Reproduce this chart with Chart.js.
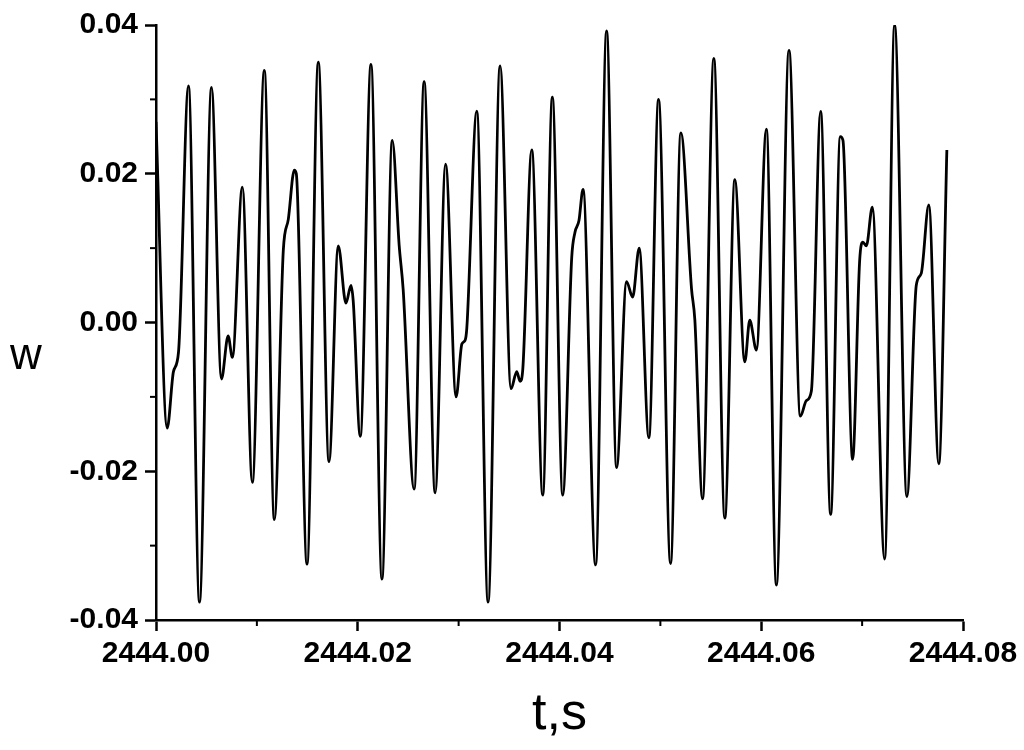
<!DOCTYPE html>
<html>
<head>
<meta charset="utf-8">
<title>w(t)</title>
<script src="https://cdn.jsdelivr.net/npm/chart.js@4.4.1/dist/chart.umd.min.js"></script>
<style>
    html, body { margin: 0; padding: 0; background: #fff; }
    #wrap { width: 1024px; height: 750px; }
</style>
</head>
<body>
<div id="wrap"><canvas id="wChart" width="1024" height="750"></canvas></div>
<script>
// Time origin (s) and sample times as offsets in milliseconds
const T0 = 2444;
const timeOffsetsMs = [
    0.00, 1.11, 1.73, 2.23, 3.22, 4.31, 5.50, 6.49, 7.15, 7.57,
    8.56, 9.55, 10.74, 11.73, 12.62, 13.12, 13.71, 13.91, 14.97, 16.09,
    17.15, 18.07, 18.83, 19.33, 19.55, 20.25, 21.31, 22.40, 23.42, 24.11,
    24.50, 25.59, 26.58, 27.67, 28.71, 29.75, 30.32, 30.64, 30.81, 31.80,
    32.92, 34.11, 35.20, 35.76, 36.09, 36.36, 37.25, 38.34, 39.29, 40.32,
    41.21, 41.53, 41.93, 42.33, 43.58, 44.67, 45.66, 46.65, 47.25, 47.90,
    48.86, 49.82, 51.01, 52.03, 53.09, 53.42, 54.18, 55.30, 56.39, 57.38,
    58.37, 58.86, 59.52, 60.51, 61.50, 62.75, 63.88, 64.47, 64.97, 65.89,
    66.88, 67.84, 68.10, 69.06, 69.75, 70.08, 70.42, 71.01, 72.23, 73.22,
    74.44, 75.37, 75.86, 76.61, 77.60, 78.40
];
const wValues = [
    0.0270, -0.0142, -0.0066, -0.0040, 0.0318, -0.0376, 0.0316, -0.0076, -0.0018, -0.0047,
    0.0182, -0.0215, 0.0339, -0.0265, 0.0097, 0.0139, 0.0205, 0.0200, -0.0325, 0.0350,
    -0.0187, 0.0103, 0.0026, 0.0050, 0.0029, -0.0153, 0.0347, -0.0345, 0.0245, 0.0103,
    0.0045, -0.0224, 0.0324, -0.0229, 0.0213, -0.0100, -0.0029, -0.0024, -0.0008, 0.0284,
    -0.0376, 0.0345, -0.0089, -0.0066, -0.0079, -0.0063, 0.0232, -0.0232, 0.0303, -0.0232,
    0.0087, 0.0121, 0.0137, 0.0179, -0.0326, 0.0392, -0.0195, 0.0055, 0.0034, 0.0100,
    -0.0155, 0.0300, -0.0324, 0.0255, 0.0045, 0.0003, -0.0237, 0.0355, -0.0263, 0.0192,
    -0.0053, 0.0003, -0.0037, 0.0260, -0.0353, 0.0366, -0.0126, -0.0105, -0.0092, 0.0284,
    -0.0258, 0.0250, 0.0245, -0.0184, 0.0082, 0.0108, 0.0103, 0.0155, -0.0318, 0.0400,
    -0.0234, 0.0050, 0.0066, 0.0158, -0.0190, 0.0232
];

// Axis ranges / tick steps
const xRange = [2444.00, 2444.08];
const xStep = 0.02;
const yRange = [-0.04, 0.04];
const yStep = 0.02;
const xTitle = 't,s';
const yTitle = 'w';

const FONT = '"Liberation Sans", Arial, Helvetica, sans-serif';

const points = timeOffsetsMs.map((ms, i) => ({ x: T0 + ms / 1000, y: wValues[i] }));

/**
 * Short unlabelled ticks half way between the labelled ones
 */
const minorTicks = {
    id: 'minorTicks',
    afterDraw(chart) {
        const ctx = chart.ctx;
        ctx.save();
        ctx.strokeStyle = '#000';
        ctx.lineWidth = 2;
        ['x', 'y'].forEach(id => {
            const scale = chart.scales[id];
            const vals = scale.ticks.map(t => t.value);
            for (let i = 0; i < vals.length - 1; i++) {
                const mid = (vals[i] + vals[i + 1]) / 2;
                const p = scale.getPixelForValue(mid);
                ctx.beginPath();
                if (id === 'x') {
                    ctx.moveTo(p, scale.top);
                    ctx.lineTo(p, scale.top + 6);
                } else {
                    ctx.moveTo(scale.right, p);
                    ctx.lineTo(scale.right - 6, p);
                }
                ctx.stroke();
            }
        });
        ctx.restore();
    }
};

/**
 * Upright y axis title, left of the tick labels
 */
const uprightYTitle = {
    id: 'uprightYTitle',
    afterDraw(chart) {
        const ctx = chart.ctx;
        const y = chart.scales.y;
        ctx.save();
        ctx.fillStyle = '#000';
        ctx.font = '44px ' + FONT;
        ctx.textAlign = 'left';
        ctx.textBaseline = 'middle';
        ctx.fillText(yTitle, 10, y.getPixelForValue(0) + 34);
        ctx.restore();
    }
};

new Chart(document.getElementById('wChart'), {
    type: 'line',
    data: {
        datasets: [{
            data: points,
            borderColor: '#000',
            borderWidth: 2.8,
            pointRadius: 0,
            fill: false,
            cubicInterpolationMode: 'monotone'
        }]
    },
    options: {
        responsive: false,
        animation: false,
        layout: { padding: { left: 0, right: 61, top: 25, bottom: 0 } },
        plugins: {
            legend: { display: false },
            tooltip: { enabled: false }
        },
        scales: {
            x: {
                type: 'linear',
                min: xRange[0],
                max: xRange[1],
                afterFit: scale => { scale.height = 130; },
                border: { color: '#000', width: 2.5 },
                grid: {
                    drawOnChartArea: false,
                    tickLength: 11,
                    tickWidth: 2.5,
                    tickColor: '#000'
                },
                ticks: {
                    stepSize: xStep,
                    color: '#000',
                    padding: 5,
                    maxRotation: 0,
                    font: { family: FONT, size: 30, weight: 'bold' },
                    callback: value => value.toFixed(2)
                },
                title: {
                    display: true,
                    text: xTitle,
                    color: '#000',
                    padding: { top: 0, bottom: 4 },
                    font: { family: FONT, size: 52 }
                }
            },
            y: {
                min: yRange[0],
                max: yRange[1],
                afterFit: scale => { scale.width = 156; },
                border: { color: '#000', width: 2.5 },
                grid: {
                    drawOnChartArea: false,
                    tickLength: 11,
                    tickWidth: 2.5,
                    tickColor: '#000'
                },
                ticks: {
                    stepSize: yStep,
                    color: '#000',
                    padding: 7,
                    font: { family: FONT, size: 30, weight: 'bold' },
                    callback: value => value.toFixed(2)
                }
            }
        }
    },
    plugins: [minorTicks, uprightYTitle]
});
</script>
</body>
</html>
